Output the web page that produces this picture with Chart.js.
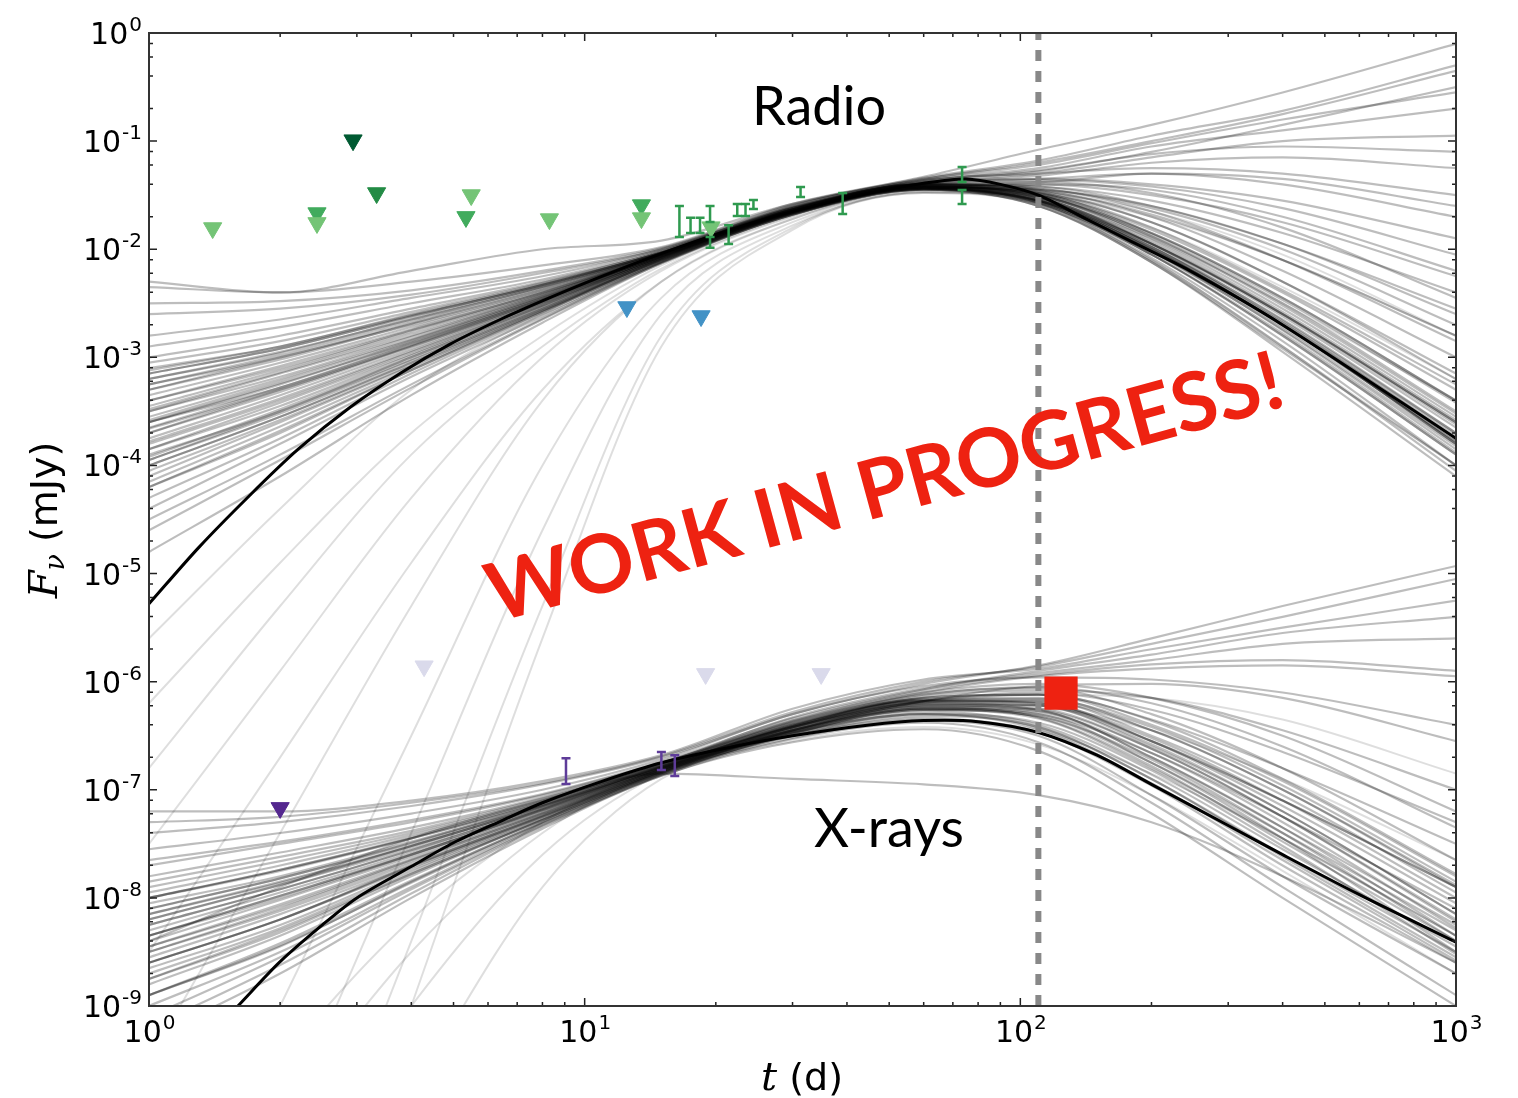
<!DOCTYPE html>
<html>
<head>
<meta charset="utf-8">
<title>Light curve</title>
<script src="https://cdn.jsdelivr.net/npm/chart.js@4.4.1/dist/chart.umd.min.js"></script>
<style>
  html, body { margin: 0; padding: 0; background: #fff; }
  #wrap { width: 1518px; height: 1098px; }
</style>
</head>
<body>
<div id="wrap"><canvas id="lc" width="1518" height="1098"></canvas></div>
<script>
// sample times (days) for every posterior light curve
const MODEL_T = [1, 2, 4, 8, 15, 30, 60, 110, 200, 400, 1000];

// radio posterior samples, log10 flux (mJy) at MODEL_T
const RADIO_SAMPLES = [
  [-2.80, -2.65, -2.45, -2.25, -2.00, -1.62, -1.40, -1.35, -1.30, -1.40, -1.70],
  [-3.00, -2.80, -2.55, -2.30, -2.02, -1.60, -1.35, -1.20, -1.00, -0.75, -0.35],
  [-3.20, -2.95, -2.65, -2.35, -2.04, -1.65, -1.42, -1.50, -1.85, -2.45, -3.40],
  [-3.40, -3.10, -2.75, -2.40, -2.05, -1.64, -1.40, -1.45, -1.70, -2.20, -3.00],
  [-3.60, -3.25, -2.85, -2.45, -2.06, -1.66, -1.43, -1.55, -2.00, -2.70, -3.80],
  [-3.80, -3.40, -2.95, -2.50, -2.08, -1.63, -1.36, -1.25, -1.05, -0.90, -0.70],
  [-4.00, -3.55, -3.05, -2.55, -2.10, -1.67, -1.44, -1.58, -2.08, -2.85, -4.00],
  [-4.30, -3.75, -3.15, -2.60, -2.12, -1.68, -1.45, -1.60, -2.12, -2.95, -4.10],
  [-2.35, -2.40, -2.30, -2.15, -1.98, -1.58, -1.33, -1.08, -0.85, -0.55, -0.10],
  [-4.80, -4.10, -3.35, -2.68, -2.13, -1.68, -1.44, -1.55, -1.95, -2.60, -3.60],
  [-3.10, -2.90, -2.60, -2.32, -2.03, -1.62, -1.38, -1.30, -1.15, -1.00, -0.95],
  [-3.50, -3.15, -2.80, -2.42, -2.05, -1.64, -1.41, -1.40, -1.45, -1.70, -2.20],
  [-3.70, -3.30, -2.90, -2.48, -2.07, -1.65, -1.42, -1.48, -1.85, -2.45, -3.40],
  [-3.30, -3.00, -2.70, -2.38, -2.04, -1.63, -1.39, -1.32, -1.20, -1.15, -1.25],
  [-3.90, -3.50, -3.00, -2.52, -2.08, -1.66, -1.43, -1.52, -1.95, -2.60, -3.60],
  [-2.90, -2.72, -2.50, -2.28, -2.01, -1.61, -1.37, -1.28, -1.10, -0.85, -0.50],
  [-4.10, -3.60, -3.08, -2.57, -2.10, -1.66, -1.43, -1.45, -1.60, -1.95, -2.60],
  [-3.60, -3.28, -2.88, -2.46, -2.06, -1.65, -1.42, -1.50, -1.90, -2.55, -3.55],
  [-4.50, -3.90, -3.25, -2.64, -2.12, -1.67, -1.44, -1.56, -2.02, -2.75, -3.85],
  [-3.25, -3.00, -2.68, -2.36, -2.04, -1.62, -1.38, -1.35, -1.40, -1.55, -1.90],
  [-2.60, -2.55, -2.42, -2.22, -2.00, -1.60, -1.35, -1.22, -1.02, -0.80, -0.55],
  [-3.75, -3.35, -2.92, -2.48, -2.07, -1.65, -1.42, -1.50, -1.88, -2.50, -3.50],
  [-4.20, -3.70, -3.12, -2.58, -2.11, -1.67, -1.44, -1.58, -2.10, -2.90, -4.05],
  [-3.45, -3.12, -2.76, -2.41, -2.05, -1.64, -1.40, -1.38, -1.30, -1.35, -1.60],
  [-3.95, -3.50, -3.02, -2.53, -2.09, -1.66, -1.43, -1.48, -1.75, -2.30, -3.20],
  [-3.05, -2.85, -2.58, -2.31, -2.02, -1.61, -1.37, -1.27, -1.12, -1.05, -1.10],
  [-4.40, -3.80, -3.18, -2.62, -2.12, -1.68, -1.45, -1.60, -2.12, -2.92, -4.00],
  [-3.55, -3.20, -2.83, -2.44, -2.06, -1.64, -1.41, -1.44, -1.62, -2.00, -2.70],
  [-2.50, -2.48, -2.38, -2.20, -1.99, -1.59, -1.34, -1.18, -0.95, -0.72, -0.30],
  [-3.85, -3.42, -2.97, -2.50, -2.08, -1.65, -1.42, -1.53, -1.98, -2.65, -3.70],
  [-3.15, -2.92, -2.62, -2.33, -2.03, -1.63, -1.40, -1.42, -1.55, -1.85, -2.40],
  [-4.60, -3.95, -3.28, -2.65, -2.13, -1.68, -1.45, -1.57, -2.05, -2.80, -3.90],
  [-2.30, -2.40, -2.20, -2.00, -1.92, -1.58, -1.36, -1.30, -1.25, -1.30, -1.50],
  [-3.35, -3.05, -2.72, -2.39, -2.04, -1.63, -1.40, -1.42, -1.60, -1.95, -2.55],
  [-3.65, -3.28, -2.87, -2.46, -2.06, -1.65, -1.42, -1.52, -1.95, -2.62, -3.65],
  [-3.15, -2.92, -2.62, -2.33, -2.03, -1.63, -1.40, -1.46, -1.75, -2.30, -3.15],
  [-3.85, -3.45, -2.98, -2.51, -2.08, -1.66, -1.43, -1.56, -2.02, -2.72, -3.78],
  [-3.50, -3.18, -2.81, -2.43, -2.05, -1.64, -1.41, -1.48, -1.82, -2.40, -3.30],
  [-4.05, -3.58, -3.07, -2.56, -2.10, -1.66, -1.43, -1.54, -1.98, -2.68, -3.75],
  [-3.25, -2.98, -2.66, -2.35, -2.04, -1.63, -1.40, -1.40, -1.50, -1.75, -2.25],
  [-3.70, -3.32, -2.90, -2.47, -2.07, -1.65, -1.42, -1.50, -1.88, -2.52, -3.52],
  [-3.95, -3.52, -3.03, -2.54, -2.09, -1.66, -1.43, -1.57, -2.05, -2.78, -3.88],
  [-3.40, -3.08, -2.74, -2.40, -2.05, -1.64, -1.41, -1.44, -1.65, -2.10, -2.85],
  [-3.60, -3.24, -2.86, -2.45, -2.06, -1.65, -1.42, -1.53, -1.96, -2.66, -3.70],
  [-4.20, -3.68, -3.12, -2.58, -2.11, -1.67, -1.44, -1.55, -2.00, -2.70, -3.80],
  [-3.30, -3.02, -2.69, -2.37, -2.04, -1.63, -1.40, -1.47, -1.80, -2.38, -3.25],
  [-3.58, -3.22, -2.84, -2.44, -2.06, -1.65, -1.42, -1.51, -1.92, -2.58, -3.58],
  [-3.78, -3.38, -2.94, -2.49, -2.07, -1.65, -1.42, -1.54, -1.98, -2.68, -3.72],
  [-4.00, -3.55, -3.05, -2.55, -2.09, -1.66, -1.43, -1.46, -1.68, -2.10, -2.80],
  [-3.12, -2.90, -2.61, -2.33, -2.03, -1.62, -1.39, -1.36, -1.42, -1.62, -2.05],
  [-3.48, -3.14, -2.78, -2.42, -2.05, -1.64, -1.41, -1.49, -1.86, -2.47, -3.42],
  [-3.92, -3.48, -3.00, -2.52, -2.08, -1.66, -1.43, -1.55, -2.00, -2.70, -3.78],
  [-3.20, -2.96, -2.64, -2.34, -2.03, -1.62, -1.39, -1.38, -1.48, -1.80, -2.45],
  [-3.66, -3.30, -2.89, -2.47, -2.07, -1.65, -1.42, -1.52, -1.94, -2.60, -3.62],
  [-4.15, -3.64, -3.10, -2.57, -2.10, -1.67, -1.44, -1.56, -2.03, -2.74, -3.82]
];

// radio samples with a late, steep rise
const RADIO_STEEP = [
  [-5.60, -4.40, -3.30, -2.60, -2.08, -1.66, -1.43, -1.55, -2.00, -2.70, -3.80],
  [-6.20, -4.90, -3.70, -2.80, -2.15, -1.68, -1.44, -1.55, -2.00, -2.70, -3.80],
  [-6.80, -5.30, -3.90, -2.90, -2.18, -1.69, -1.45, -1.50, -1.80, -2.35, -3.20],
  [-7.50, -5.90, -4.30, -3.00, -2.20, -1.70, -1.45, -1.55, -1.95, -2.60, -3.60],
  [-8.50, -6.70, -4.90, -3.30, -2.30, -1.72, -1.45, -1.48, -1.65, -2.05, -2.80],
  [-9.50, -7.40, -5.30, -3.40, -2.30, -1.72, -1.46, -1.60, -2.10, -2.90, -4.00],
  [-11.5, -9.00, -6.50, -4.00, -2.45, -1.75, -1.47, -1.55, -1.90, -2.50, -3.40],
  [-13.0, -10.2, -7.40, -4.60, -2.60, -1.78, -1.47, -1.58, -2.05, -2.80, -3.90],
  [-14.5, -11.5, -8.40, -5.30, -2.80, -1.80, -1.48, -1.50, -1.70, -2.10, -2.80],
  [-16.0, -12.5, -9.00, -5.60, -2.90, -1.82, -1.48, -1.58, -2.05, -2.80, -3.90]
];

// X-ray posterior samples, log10 flux (mJy) at MODEL_T
const XRAY_SAMPLES = [
  [-7.40, -7.30, -7.15, -6.95, -6.70, -6.30, -6.02, -5.85, -5.60, -5.30, -4.93],
  [-7.70, -7.50, -7.30, -7.05, -6.75, -6.38, -6.10, -5.95, -5.88, -5.85, -5.95],
  [-8.00, -7.75, -7.45, -7.12, -6.78, -6.42, -6.18, -6.20, -6.55, -7.10, -7.90],
  [-8.30, -7.95, -7.58, -7.18, -6.80, -6.45, -6.26, -6.34, -6.80, -7.45, -8.35],
  [-8.60, -8.20, -7.72, -7.25, -6.83, -6.48, -6.30, -6.42, -6.90, -7.60, -8.50],
  [-8.90, -8.45, -7.85, -7.30, -6.85, -6.52, -6.36, -6.50, -7.05, -7.80, -8.70],
  [-9.30, -8.70, -8.00, -7.36, -6.87, -6.56, -6.44, -6.64, -7.22, -8.00, -9.00],
  [-7.20, -7.20, -7.10, -6.92, -6.68, -6.25, -5.98, -5.88, -5.70, -5.50, -5.25],
  [-7.85, -7.62, -7.38, -7.08, -6.76, -6.33, -6.06, -5.92, -5.80, -5.65, -5.60],
  [-8.15, -7.85, -7.52, -7.15, -6.79, -6.40, -6.14, -6.08, -6.15, -6.45, -7.00],
  [-8.45, -8.08, -7.65, -7.22, -6.82, -6.43, -6.18, -6.12, -6.35, -6.80, -7.50],
  [-8.75, -8.32, -7.78, -7.28, -6.84, -6.45, -6.22, -6.22, -6.55, -7.10, -7.90],
  [-9.10, -8.55, -7.92, -7.33, -6.86, -6.48, -6.26, -6.32, -6.75, -7.40, -8.30],
  [-7.55, -7.40, -7.22, -7.00, -6.72, -6.30, -6.04, -5.96, -5.98, -6.10, -6.40],
  [-8.05, -7.80, -7.48, -7.14, -6.79, -6.42, -6.20, -6.26, -6.70, -7.35, -8.25],
  [-8.50, -8.12, -7.68, -7.23, -6.82, -6.47, -6.28, -6.40, -6.86, -7.55, -8.45],
  [-8.20, -7.88, -7.54, -7.16, -6.80, -6.45, -6.24, -6.33, -6.78, -7.48, -8.40],
  [-8.80, -8.35, -7.80, -7.28, -6.84, -6.50, -6.34, -6.47, -6.96, -7.70, -8.60],
  [-7.95, -7.70, -7.42, -7.10, -6.77, -6.36, -6.08, -5.94, -5.84, -5.80, -5.90],
  [-8.65, -8.25, -7.74, -7.26, -6.83, -6.45, -6.18, -6.04, -6.02, -6.15, -6.55],
  [-9.00, -8.50, -7.90, -7.32, -6.86, -6.50, -6.32, -6.42, -6.90, -7.62, -8.55],
  [-8.40, -8.02, -7.62, -7.20, -6.81, -6.42, -6.18, -6.10, -6.26, -6.65, -7.30],
  [-7.65, -7.48, -7.28, -7.04, -6.74, -6.34, -6.07, -5.90, -5.75, -5.55, -5.40],
  [-8.35, -7.98, -7.60, -7.19, -6.81, -6.47, -6.30, -6.44, -6.94, -7.65, -8.58],
  [-9.20, -8.62, -7.96, -7.34, -6.87, -6.53, -6.38, -6.56, -7.12, -7.90, -8.90],
  [-8.55, -8.15, -7.70, -7.24, -6.83, -6.46, -6.25, -6.30, -6.66, -7.25, -8.10],
  [-8.40, -7.90, -7.45, -7.10, -6.85, -6.90, -6.95, -7.05, -7.30, -7.80, -8.60],
  [-7.30, -7.25, -7.12, -6.94, -6.69, -6.28, -6.00, -5.86, -5.65, -5.40, -5.05],
  [-8.20, -7.88, -7.52, -7.15, -6.78, -6.40, -6.16, -6.15, -6.45, -7.00, -7.90],
  [-8.50, -8.10, -7.66, -7.22, -6.81, -6.44, -6.20, -6.22, -6.60, -7.20, -8.15],
  [-8.00, -7.74, -7.44, -7.11, -6.77, -6.38, -6.12, -6.06, -6.30, -6.80, -7.65],
  [-8.70, -8.28, -7.76, -7.27, -6.83, -6.46, -6.23, -6.27, -6.70, -7.35, -8.35],
  [-8.35, -7.98, -7.60, -7.18, -6.80, -6.42, -6.18, -6.17, -6.50, -7.05, -7.95],
  [-7.80, -7.58, -7.35, -7.07, -6.75, -6.36, -6.10, -6.02, -6.15, -6.50, -7.20],
  [-8.60, -8.20, -7.70, -7.24, -6.82, -6.45, -6.22, -6.25, -6.62, -7.25, -8.20],
  [-8.10, -7.82, -7.49, -7.13, -6.78, -6.40, -6.15, -6.12, -6.40, -6.92, -7.80],
  [-8.90, -8.42, -7.84, -7.30, -6.85, -6.48, -6.25, -6.30, -6.75, -7.45, -8.50],
  [-8.25, -7.92, -7.56, -7.17, -6.79, -6.41, -6.17, -6.19, -6.55, -7.15, -8.05],
  [-8.10, -7.82, -7.50, -7.14, -6.79, -6.41, -6.18, -6.20, -6.52, -7.10, -8.00],
  [-8.45, -8.06, -7.64, -7.21, -6.81, -6.43, -6.20, -6.22, -6.58, -7.20, -8.15],
  [-7.90, -7.66, -7.40, -7.09, -6.76, -6.37, -6.12, -6.05, -6.20, -6.60, -7.35],
  [-8.75, -8.30, -7.78, -7.28, -6.84, -6.47, -6.26, -6.32, -6.72, -7.40, -8.40],
  [-8.25, -7.92, -7.56, -7.17, -6.80, -6.42, -6.19, -6.18, -6.45, -7.00, -7.88],
  [-8.60, -8.20, -7.71, -7.25, -6.83, -6.46, -6.24, -6.28, -6.66, -7.30, -8.28],
  [-8.00, -7.74, -7.45, -7.12, -6.77, -6.39, -6.15, -6.12, -6.36, -6.90, -7.78],
  [-8.35, -8.00, -7.60, -7.19, -6.81, -6.44, -6.22, -6.26, -6.62, -7.25, -8.22],
  [-8.90, -8.44, -7.86, -7.31, -6.85, -6.49, -6.30, -6.38, -6.82, -7.52, -8.52],
  [-8.15, -7.86, -7.52, -7.15, -6.79, -6.41, -6.17, -6.16, -6.42, -6.96, -7.85]
];

// X-ray samples with a late, steep rise
const XRAY_STEEP = [
  [-11.0, -9.50, -8.20, -7.30, -6.80, -6.42, -6.20, -6.12, -6.15, -6.35, -6.85],
  [-11.5, -10.0, -8.50, -7.40, -6.82, -6.45, -6.25, -6.25, -6.45, -6.90, -7.65],
  [-12.5, -10.8, -9.00, -7.60, -6.85, -6.50, -6.35, -6.45, -6.85, -7.45, -8.35],
  [-13.5, -11.8, -9.80, -7.90, -6.90, -6.55, -6.42, -6.58, -7.05, -7.75, -8.70]
];

// best-fit models, log10 flux (mJy)
const RADIO_FIT_T = [1, 1.3, 1.7, 2.2, 2.9, 3.8, 4.9, 6.4, 8.3, 10.8, 15, 22, 30, 45, 60, 75, 90, 110, 140, 180, 240, 400, 1000];
const RADIO_FIT = [-5.28, -4.76, -4.28, -3.85, -3.46, -3.14, -2.88, -2.65, -2.45, -2.26, -2.04, -1.81, -1.65, -1.48, -1.39, -1.35, -1.40, -1.50, -1.71, -1.93, -2.18, -2.70, -3.75];
const XRAY_FIT_T = [1.6, 2, 2.5, 3, 4, 5, 6.5, 8, 11, 15, 22, 30, 45, 60, 80, 110, 150, 200, 300, 400, 600, 1000];
const XRAY_FIT = [-9.0, -8.59, -8.25, -8.0, -7.71, -7.49, -7.28, -7.12, -6.92, -6.75, -6.60, -6.50, -6.40, -6.36, -6.37, -6.47, -6.68, -6.95, -7.33, -7.60, -7.97, -8.41];

// radio upper limits (mJy), one pair of arrays per band
const UL_R1_T = [1.40, 2.43, 5.49, 8.30, 13.5, 19.5];
const UL_R1_F = [0.0157, 0.0175, 0.0317, 0.0190, 0.0194, 0.0160];
const UL_R2_T = [2.43, 5.34, 13.5];
const UL_R2_F = [0.0216, 0.0199, 0.0256];
const UL_R3_T = [3.33];
const UL_R3_F = [0.0331];
const UL_R4_T = [2.94];
const UL_R4_F = [0.102];
const UL_R5_T = [12.5, 18.5];
const UL_R5_F = [0.00292, 0.00241];

// X-ray upper limits (mJy)
const UL_X1_T = [2.0];
const UL_X1_F = [6.8e-8];
const UL_X2_T = [4.28, 18.95, 34.9];
const UL_X2_F = [1.39e-6, 1.18e-6, 1.18e-6];

// radio detections: time, flux, lower and upper error bound (mJy)
const DET_R_T  = [16.5, 17.5, 18.4, 19.4, 19.4, 21.4, 22.4, 23.4, 24.4, 31.3, 39.1, 73.5, 73.5];
const DET_R_F  = [0.0182, 0.0166, 0.0166, 0.0212, 0.0117, 0.0138, 0.0231, 0.0231, 0.0259, 0.0338, 0.0265, 0.0491, 0.0304];
const DET_R_LO = [0.0130, 0.0141, 0.0141, 0.0179, 0.0103, 0.0112, 0.0203, 0.0203, 0.0236, 0.0304, 0.0212, 0.0419, 0.0262];
const DET_R_HI = [0.0251, 0.0195, 0.0195, 0.0251, 0.0130, 0.0167, 0.0262, 0.0262, 0.0285, 0.0376, 0.0331, 0.0575, 0.0353];

// X-ray detections
const DET_X_T  = [9.06, 15.0, 16.1];
const DET_X_F  = [1.49e-7, 1.84e-7, 1.67e-7];
const DET_X_LO = [1.13e-7, 1.52e-7, 1.34e-7];
const DET_X_HI = [1.96e-7, 2.23e-7, 2.09e-7];

// new X-ray point and the epoch marker
const NEW_X_T = [124];
const NEW_X_F = [7.85e-7];
const EPOCH_T = 110;

// axis decades
const X_TICK_EXP = [0, 1, 2, 3];
const Y_TICK_EXP = [0, -1, -2, -3, -4, -5, -6, -7, -8, -9];

const pts = (ts, logs) => ts.map((t, i) => ({ x: t, y: Math.pow(10, logs[i]) }));
const marks = (ts, fs) => ts.map((t, i) => ({ x: t, y: fs[i] }));

const datasets = [];
const sample = (s, color, width) => ({ data: pts(MODEL_T, s), showLine: true, borderColor: color,
  borderWidth: width, pointRadius: 0, cubicInterpolationMode: 'monotone', clip: 0, order: 10 });
[...RADIO_SAMPLES, ...XRAY_SAMPLES].forEach(s => datasets.push(sample(s, 'rgba(0,0,0,0.26)', 2.2)));
[...RADIO_STEEP, ...XRAY_STEEP].forEach(s => datasets.push(sample(s, 'rgba(0,0,0,0.13)', 2)));

[[RADIO_FIT_T, RADIO_FIT], [XRAY_FIT_T, XRAY_FIT]].forEach(([t, f]) => {
  datasets.push({ data: pts(t, f), showLine: true, borderColor: '#000', borderWidth: 3,
    pointRadius: 0, tension: 0.3, clip: 0, order: 6 });
});
datasets.push({ data: [{ x: EPOCH_T, y: 1e-9 }, { x: EPOCH_T, y: 1 }], showLine: true,
  borderColor: '#888', borderWidth: 6, borderDash: [11, 10], pointRadius: 0, clip: 0, order: 5 });

const tri = (ts, fs, color) => ({ data: marks(ts, fs), pointStyle: 'triangle', rotation: 180,
  pointRadius: 10.5, backgroundColor: color, borderColor: color, borderWidth: 1, order: 2 });
datasets.push(tri(UL_R1_T, UL_R1_F, '#74c476'));
datasets.push(tri(UL_R2_T, UL_R2_F, '#41ab5d'));
datasets.push(tri(UL_R3_T, UL_R3_F, '#238b45'));
datasets.push(tri(UL_R4_T, UL_R4_F, '#005a32'));
datasets.push(tri(UL_R5_T, UL_R5_F, '#4292c6'));
datasets.push(tri(UL_X1_T, UL_X1_F, '#54278f'));
datasets.push(tri(UL_X2_T, UL_X2_F, '#dadaeb'));
datasets.push({ data: marks(NEW_X_T, NEW_X_F), pointStyle: 'rect', pointRadius: 23.5,
  backgroundColor: '#ee2211', borderWidth: 0, order: 0 });

function supLabel(ctx, exp, x, y, align) {
  const base = '10', sup = String(exp);
  ctx.font = '30px "DejaVu Sans"';
  const wb = ctx.measureText(base).width;
  ctx.font = '20px "DejaVu Sans"';
  const ws = ctx.measureText(sup).width;
  const left = align === 'right' ? x - wb - ws : x - (wb + ws) / 2;
  ctx.textAlign = 'left';
  ctx.textBaseline = 'alphabetic';
  ctx.font = '30px "DejaVu Sans"';
  ctx.fillText(base, left, y);
  ctx.font = '20px "DejaVu Sans"';
  ctx.fillText(sup, left + wb + 1, y - 13);
}

const errorBars = {
  id: 'errorBars',
  afterDatasetsDraw(chart) {
    const { ctx, scales: { x, y } } = chart;
    const draw = (T, LO, HI, color) => {
      ctx.save();
      ctx.strokeStyle = color;
      ctx.lineWidth = 2.5;
      T.forEach((t, i) => {
        const px = x.getPixelForValue(t);
        const y0 = y.getPixelForValue(LO[i]);
        const y1 = y.getPixelForValue(HI[i]);
        ctx.beginPath();
        ctx.moveTo(px, y0); ctx.lineTo(px, y1);
        ctx.moveTo(px - 4.5, y0); ctx.lineTo(px + 4.5, y0);
        ctx.moveTo(px - 4.5, y1); ctx.lineTo(px + 4.5, y1);
        ctx.stroke();
      });
      ctx.restore();
    };
    draw(DET_R_T, DET_R_LO, DET_R_HI, '#2f9a4f');
    draw(DET_X_T, DET_X_LO, DET_X_HI, '#5e3c99');
  }
};

const axesDeco = {
  id: 'axesDeco',
  afterDraw(chart) {
    const { ctx, chartArea: a, scales: { x, y } } = chart;
    ctx.save();
    // inward ticks on all four sides
    ctx.strokeStyle = '#222';
    ctx.lineWidth = 1.5;
    ctx.beginPath();
    for (let e = 0; e < 3; e++) {
      for (let m = 1; m <= 10; m++) {
        const px = x.getPixelForValue(m * Math.pow(10, e));
        const len = (m === 1 || m === 10) ? 8 : 4;
        ctx.moveTo(px, a.bottom); ctx.lineTo(px, a.bottom - len);
        ctx.moveTo(px, a.top); ctx.lineTo(px, a.top + len);
      }
    }
    for (let e = -9; e < 0; e++) {
      [1, 2, 4, 6, 8, 10].forEach(m => {
        const py = y.getPixelForValue(m * Math.pow(10, e));
        const len = (m === 1 || m === 10) ? 8 : 4;
        ctx.moveTo(a.left, py); ctx.lineTo(a.left + len, py);
        ctx.moveTo(a.right, py); ctx.lineTo(a.right - len, py);
      });
    }
    ctx.stroke();
    ctx.lineWidth = 2;
    ctx.strokeStyle = '#333';
    ctx.strokeRect(a.left, a.top, a.right - a.left, a.bottom - a.top);

    // tick labels
    ctx.fillStyle = '#000';
    X_TICK_EXP.forEach(e => supLabel(ctx, e, x.getPixelForValue(Math.pow(10, e)), a.bottom + 36, 'center'));
    Y_TICK_EXP.forEach(e => supLabel(ctx, e, a.left - 8, y.getPixelForValue(Math.pow(10, e)) + 11, 'right'));

    // axis titles
    ctx.textAlign = 'left';
    ctx.textBaseline = 'alphabetic';
    ctx.font = 'italic 40px "DejaVu Serif"';
    const wt = ctx.measureText('t').width;
    ctx.font = '38px "DejaVu Sans"';
    const wd = ctx.measureText(' (d)').width;
    let sx = 802 - (wt + wd) / 2;
    ctx.font = 'italic 40px "DejaVu Serif"';
    ctx.fillText('t', sx, 1090);
    ctx.font = '38px "DejaVu Sans"';
    ctx.fillText(' (d)', sx + wt, 1090);

    ctx.save();
    ctx.translate(57, 520);
    ctx.rotate(-Math.PI / 2);
    ctx.font = 'italic 40px "DejaVu Serif"';
    const wF = ctx.measureText('F').width;
    ctx.font = 'italic 27px "DejaVu Serif"';
    const wn = ctx.measureText('\u03bd').width;
    ctx.font = '38px "DejaVu Sans"';
    const wm = ctx.measureText(' (mJy)').width;
    sx = -(wF + wn + wm) / 2;
    ctx.font = 'italic 40px "DejaVu Serif"';
    ctx.fillText('F', sx, 0);
    ctx.font = 'italic 27px "DejaVu Serif"';
    ctx.fillText('\u03bd', sx + wF, 7);
    ctx.font = '38px "DejaVu Sans"';
    ctx.fillText(' (mJy)', sx + wF + wn, 0);
    ctx.restore();

    // band names
    ctx.textAlign = 'center';
    ctx.font = '54px Lato';
    ctx.fillText('Radio', 819, 125);
    ctx.fillText('X-rays', 889, 847);

    // banner
    ctx.save();
    ctx.translate(892, 514);
    ctx.rotate(-15.3 * Math.PI / 180);
    ctx.font = 'bold 100px Lato';
    const w100 = ctx.measureText('WORK IN PROGRESS!').width;
    ctx.font = 'bold ' + (100 * 822 / w100).toFixed(1) + 'px Lato';
    ctx.fillStyle = '#ee2211';
    ctx.textAlign = 'center';
    ctx.fillText('WORK IN PROGRESS!', 0, 0);
    ctx.restore();
    ctx.restore();
  }
};

new Chart(document.getElementById('lc'), {
  type: 'scatter',
  data: { datasets },
  options: {
    responsive: false,
    animation: false,
    devicePixelRatio: 1,
    layout: { padding: { left: 149, right: 62, top: 33, bottom: 92 } },
    plugins: { legend: { display: false }, tooltip: { enabled: false } },
    events: [],
    scales: {
      x: { type: 'logarithmic', min: 1, max: 1000, display: false },
      y: { type: 'logarithmic', min: 1e-9, max: 1, display: false }
    }
  },
  plugins: [errorBars, axesDeco]
});
</script>
</body>
</html>
